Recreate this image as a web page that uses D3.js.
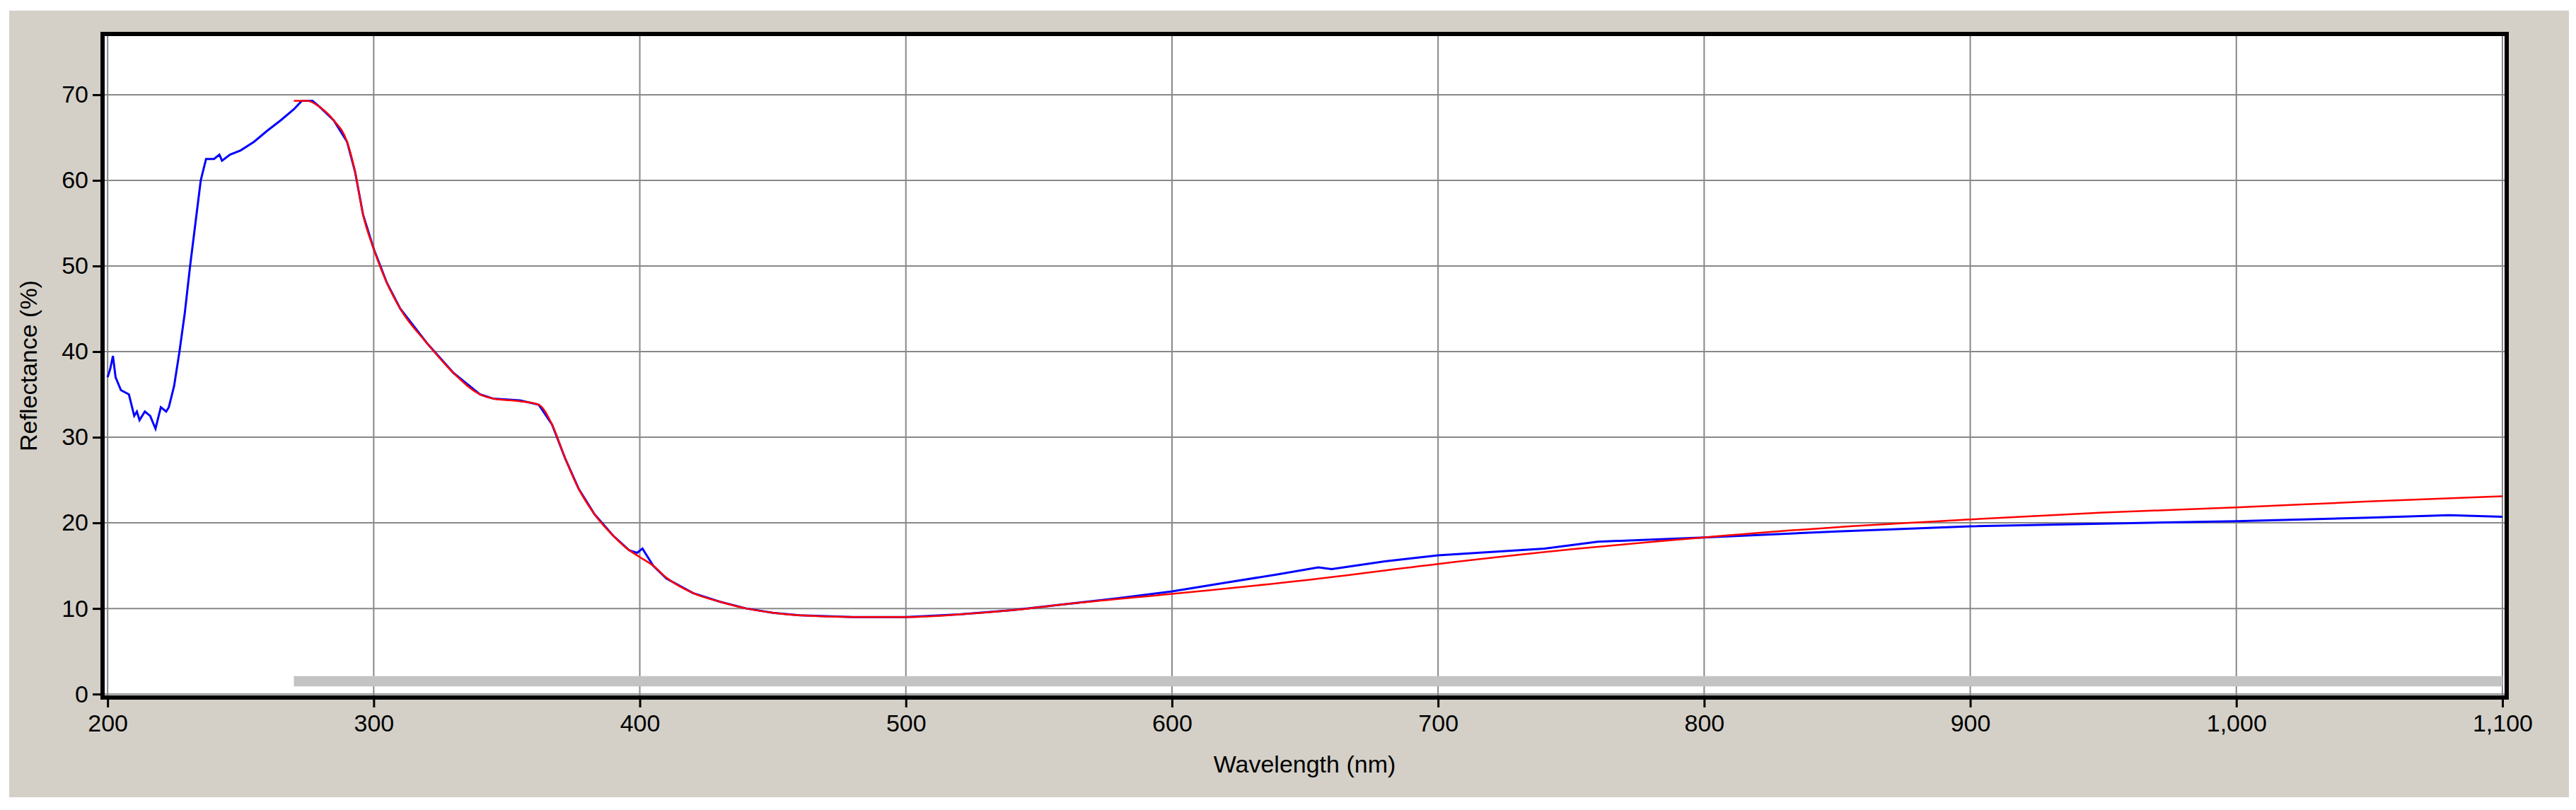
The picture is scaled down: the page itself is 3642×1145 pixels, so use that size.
<!DOCTYPE html>
<html>
<head>
<meta charset="utf-8">
<script src="https://cdn.jsdelivr.net/npm/d3@7"></script>
<style>
  body { margin: 0; background: #fff; }
  text { font-family: "Liberation Sans", "DejaVu Sans", sans-serif; fill: #000; }
</style>
</head>
<body>
<svg id="chart"></svg>
<script>
// measured spectrum (blue) and fitted model (red)
const measWl = [200,201,202,203,205,208,210,211,212,214,216,218,220,222,223,225,227,229,231,233,235,237,240,242,243,246,250,255,260,265,270,273,277,280,285,290,293,296,300,305,310,320,330,340,345,355,362,367,372,377,383,390,396,399,401,405,410,420,430,440,450,460,480,500,520,540,560,580,600,620,640,655,660,680,700,740,760,800,850,900,950,1000,1050,1080,1100];
const measR = [37,38,39.5,37,35.5,35,32.5,33,32,33,32.5,31,33.5,33,33.5,36,40,44.5,50,55,60,62.5,62.5,63,62.3,63,63.5,64.5,65.8,67,68.3,69.3,69.3,68.5,67,64.5,61,56,52,48,45,41,37.5,35,34.5,34.3,33.8,31.5,27.5,24,21,18.5,16.8,16.5,17,15,13.5,11.8,10.8,10,9.5,9.2,9,9,9.3,9.8,10.5,11.2,12,13,14,14.8,14.6,15.5,16.2,17,17.8,18.3,19,19.6,19.9,20.2,20.6,20.9,20.7];

const fitWl = [270,275,280,285,290,293,296,300,305,310,320,330,340,345,355,362,367,372,377,383,390,396,400,405,410,420,430,440,450,460,480,500,520,540,560,600,650,700,750,800,850,900,950,1000,1050,1100];
const fitR = [69.3,69.3,68.5,67,64.5,61,56,52,48,45,41,37.5,35,34.5,34.2,33.8,31.5,27.5,24,21,18.5,16.8,16,15,13.6,11.8,10.8,10,9.5,9.2,9,9,9.3,9.8,10.5,11.7,13.3,15.2,16.9,18.3,19.5,20.4,21.2,21.8,22.5,23.1];

const xTicks = [200,300,400,500,600,700,800,900,1000,1100];
const yTicks = [0,10,20,30,40,50,60,70];
const bandRange = [270, 1100]; // grey bar along the bottom

const W = 3642, H = 1145;
const svg = d3.select("#chart").attr("width", W).attr("height", H);

svg.append("rect").attr("x", 13).attr("y", 15).attr("width", 3619).attr("height", 1112).attr("fill", "#d4d0c8");

const pL = 145, pR = 3544, pT = 48, pB = 986;
const x = d3.scaleLinear().domain([198.1, 1101.6]).range([pL, pR]);
const y = d3.scaleLinear().domain([-0.4, 77.1]).range([pB, pT]);

svg.append("rect").attr("x", pL).attr("y", pT).attr("width", pR - pL).attr("height", pB - pT).attr("fill", "#fff");

// grid
svg.append("g").selectAll("line").data(xTicks).join("line")
  .attr("x1", d => x(d)).attr("x2", d => x(d)).attr("y1", pT).attr("y2", pB)
  .attr("stroke", "#888").attr("stroke-width", 2);
svg.append("g").selectAll("line").data(yTicks).join("line")
  .attr("x1", pL).attr("x2", pR).attr("y1", d => y(d)).attr("y2", d => y(d))
  .attr("stroke", "#888").attr("stroke-width", 2);

svg.append("rect")
  .attr("x", x(bandRange[0])).attr("width", x(bandRange[1]) - x(bandRange[0]))
  .attr("y", y(2.1)).attr("height", y(0.9) - y(2.1)).attr("fill", "#c3c3c3");

const line = d3.line().x(d => x(d[0])).y(d => y(d[1]));
svg.append("path").datum(d3.zip(measWl, measR)).attr("d", line)
  .attr("fill", "none").attr("stroke", "#0000ff").attr("stroke-width", 3);
svg.append("path").datum(d3.zip(fitWl, fitR)).attr("d", line.curve(d3.curveMonotoneX))
  .attr("fill", "none").attr("stroke", "#ff0000").attr("stroke-width", 2.5);

// frame
svg.append("rect").attr("x", pL).attr("y", pT).attr("width", pR - pL).attr("height", pB - pT)
  .attr("fill", "none").attr("stroke", "#000").attr("stroke-width", 6);

// axes
const xAxis = svg.append("g").attr("transform", `translate(0,${pB})`)
  .call(d3.axisBottom(x).tickValues(xTicks).tickSize(14).tickPadding(10));
const yAxis = svg.append("g").attr("transform", `translate(${pL},0)`)
  .call(d3.axisLeft(y).tickValues(yTicks).tickSize(14).tickPadding(6));
[xAxis, yAxis].forEach(g => {
  g.select(".domain").remove();
  g.selectAll("line").attr("stroke", "#000").attr("stroke-width", 3);
  g.selectAll("text").attr("font-size", 34).attr("font-family", "Liberation Sans, sans-serif");
});

svg.append("text").attr("x", (pL + pR) / 2).attr("y", 1092).attr("text-anchor", "middle")
  .attr("font-size", 34).text("Wavelength (nm)");
svg.append("text").attr("transform", `translate(52,${(pT + pB) / 2}) rotate(-90)`)
  .attr("text-anchor", "middle").attr("font-size", 34).text("Reflectance (%)");
</script>
</body>
</html>
